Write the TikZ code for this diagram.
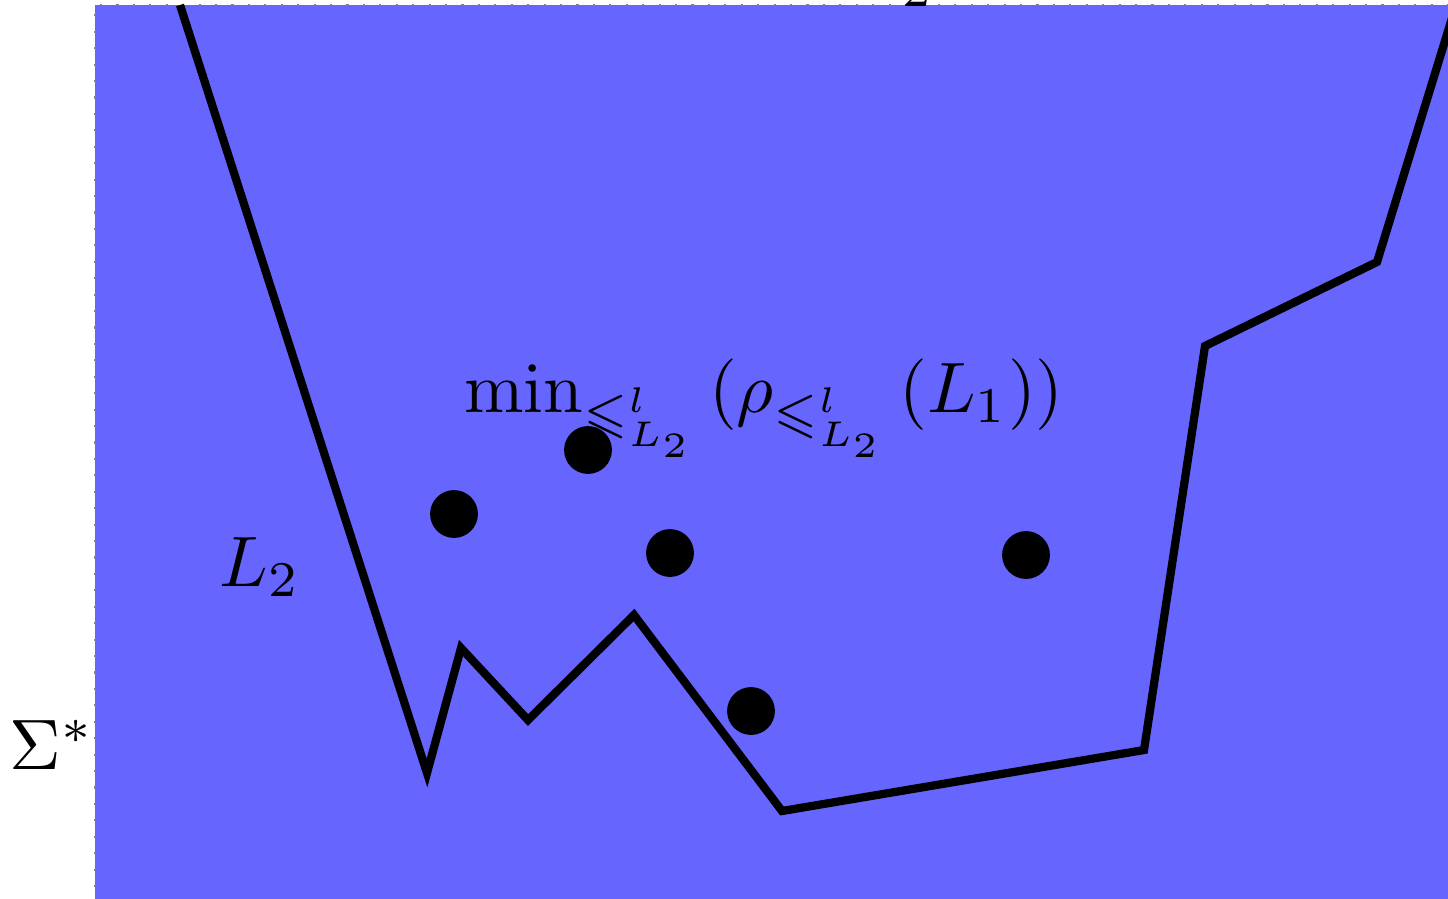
\documentclass[tikz,border=0pt]{standalone}
\usepackage{amssymb}
\begin{document}
\begin{tikzpicture}[x=0.14pt,y=-0.14pt,
  boundary/.style={line width=1.15pt,line join=miter},
  elem/.style={circle,fill=black,inner sep=0pt,minimum size=6.7pt},
  lbl/.style={inner sep=0pt}]
\useasboundingbox (0,0) rectangle (1448,898);
\fill[blue!60] (95,5) rectangle (1470,920);
\draw[gray,dotted,line width=0.3pt] (95,920) -- (95,5) -- (1470,5);
\coordinate (s) at (180,5);
\coordinate (e) at (1456,5);
\draw[boundary] (s) -- (427,773) -- (461,648) -- (528,720) -- (634,615) -- (782,811) -- (1144,750) -- (1205,346) -- (1377,262) -- (e);
\node[elem] (d1) at (588,450) {};
\node[elem] (d2) at (454,514) {};
\node[elem] (d3) at (670,553) {};
\node[elem] (d4) at (1026,555) {};
\node[elem] (d5) at (751,711) {};
\node[lbl,anchor=base west] (f) at (463,412) {$\min_{\leqslant^l_{L_2}}\mathinner{(\rho_{\leqslant^l_{L_2}}\mathinner{(L_1)})}$};
\node[lbl] (l2) at (260,567) {$L_2$};
\node[lbl] (sig) at (52,745) {$\Sigma^*$};
\node[lbl,anchor=base west] (top) at (852,-4) {$L_2$};
\end{tikzpicture}
\end{document}
